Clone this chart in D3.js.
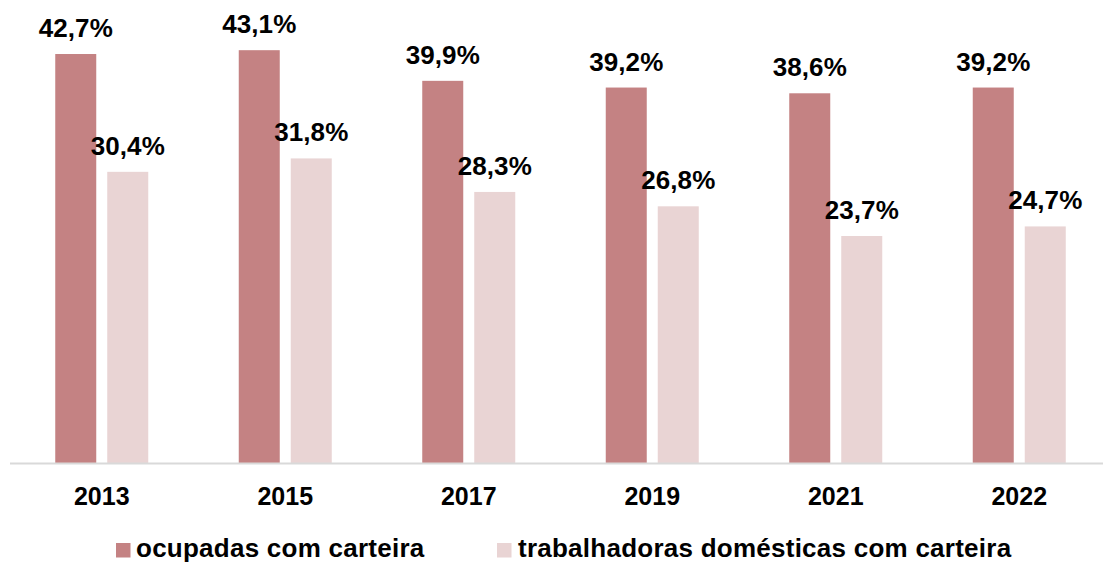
<!DOCTYPE html>
<html><head><meta charset="utf-8">
<script src="https://cdn.jsdelivr.net/npm/d3@7"></script>
<style>
html,body{margin:0;padding:0;background:#fff;}
svg{display:block;font-family:"Liberation Sans",Arial,sans-serif;}
</style></head>
<body>
<svg id="chart" width="1103" height="562"></svg>
<script>
const years = ["2013","2015","2017","2019","2021","2022"];
const seriesNames = ["ocupadas com carteira","trabalhadoras domésticas com carteira"];
const ocupadas = [42.7, 43.1, 39.9, 39.2, 38.6, 39.2];
const domesticas = [30.4, 31.8, 28.3, 26.8, 23.7, 24.7];
const colors = ["#c48283","#e9d4d4"];

const svg = d3.select("#chart");
const baseY = 463;
const y = d3.scaleLinear().domain([0,45]).range([baseY, baseY - 45*9.578]);
const x0 = d3.scaleBand().domain(years).range([10, 1111]).padding(0);
const bw = x0.bandwidth();
const x1 = d3.scaleBand().domain([0,1]).range([(bw-93)/2, (bw-93)/2 + 93]).paddingInner(0.2115).paddingOuter(0);

const data = years.map((yr,i)=>({year:yr, vals:[ocupadas[i], domesticas[i]]}));

const fmt = v => d3.format(".1f")(v).replace(".", ",") + "%";

const g = svg.selectAll("g.grp").data(data).enter().append("g")
  .attr("class","grp").attr("transform", d=>`translate(${x0(d.year)},0)`);

g.selectAll("rect").data(d=>d.vals.map((v,k)=>({v,k}))).enter().append("rect")
  .attr("x", d=>x1(d.k)).attr("width", x1.bandwidth())
  .attr("y", d=>y(d.v)).attr("height", d=>baseY - y(d.v))
  .attr("fill", d=>colors[d.k]);

g.selectAll("text.val").data(d=>d.vals.map((v,k)=>({v,k}))).enter().append("text")
  .attr("class","val")
  .attr("x", d=>x1(d.k) + x1.bandwidth()/2)
  .attr("y", d=>y(d.v) - 17)
  .attr("text-anchor","middle")
  .attr("font-size", 26).attr("font-weight","bold").attr("letter-spacing", 0.1)
  .attr("fill","#000")
  .text(d=>fmt(d.v));

// x axis
const xAxis = d3.axisBottom(x0).tickSize(0).tickPadding(0);
const ax = svg.append("g").attr("transform", `translate(0,${baseY})`).call(xAxis);
ax.select(".domain").attr("d", `M10,0.5H1103`).attr("stroke","#d9d9d9").attr("stroke-width",2);
ax.selectAll(".tick text")
  .attr("y", 42).attr("dy", null)
  .attr("font-size", 25).attr("font-weight","bold")
  .attr("font-family", '"Liberation Sans",Arial,sans-serif')
  .attr("fill","#000");

// legend
const legendItems = [
  {name: seriesNames[0], color: colors[0], sx: 116, tx: 136},
  {name: seriesNames[1], color: colors[1], sx: 497, tx: 518}
];
const lg = svg.append("g");
legendItems.forEach(it=>{
  lg.append("rect").attr("x", it.sx).attr("y", 543).attr("width", 14.5).attr("height", 14.5).attr("fill", it.color);
  lg.append("text").attr("x", it.tx).attr("y", 557)
    .attr("font-size", 26).attr("font-weight","bold").attr("letter-spacing", 0.25)
    .attr("fill","#000").text(it.name);
});
</script>
</body></html>
